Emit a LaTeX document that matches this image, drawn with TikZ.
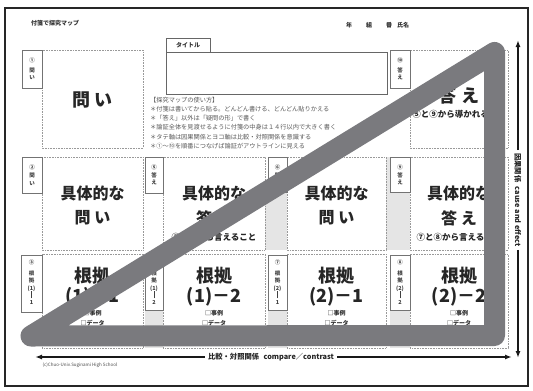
\documentclass[tikz,border=0pt]{standalone}
\usepackage{fontspec}
\newfontfamily\jp{Noto Sans CJK JP}
\usetikzlibrary{arrows.meta}
\definecolor{triG}{RGB}{122,122,126}
\newcommand{\vbarmark}{\rule[-1pt]{0.5pt}{7pt}}
\begin{document}
\begin{tikzpicture}[x=1pt,y=-1pt,
  lab/.style={draw=black!55,line width=0.6pt,fill=white},
  dbox/.style={draw=black!40,densely dotted,line width=0.6pt},
  stip/.style={fill=black!10,draw=none},
  bigt/.style={font=\jp\bfseries\fontsize{18}{18}\selectfont,text=black!85,inner sep=0pt},
  midt/.style={font=\jp\bfseries\fontsize{16}{16}\selectfont,text=black!85,inner sep=0pt},
  subt/.style={font=\jp\bfseries\fontsize{8.5}{9}\selectfont,text=black!85,inner sep=0pt},
  smallt/.style={font=\jp\bfseries\fontsize{6}{6}\selectfont,text=black!80,inner sep=0pt},
  labt/.style={font=\jp\bfseries\fontsize{5.5}{7.3}\selectfont,text=black!75,align=center,inner sep=0pt},
  inst/.style={font=\jp\fontsize{6.2}{7}\selectfont,anchor=west,inner sep=0pt,text=black!65},
  axt/.style={font=\jp\bfseries\fontsize{7.3}{8}\selectfont,text=black!85,inner sep=3pt},
  axis/.style={line width=1.5pt,black!90,-{Latex[length=7pt,width=5pt]}}
]
\useasboundingbox (0,0) rectangle (533,391);
\fill[white] (0,0) rectangle (533,391);
% frame
\draw[line width=2.6pt,black!85] (5,8) rectangle (528,386);

% header texts
\node[smallt] (hdr) at (55,23) {付箋で探究マップ};
\node[smallt] (nen) at (349,25) {年};
\node[smallt] (kumi) at (369,25) {組};
\node[smallt] (ban) at (389,25) {番};
\node[smallt] (shimei) at (403,25) {氏名};

% stipple strips
\fill[stip] (265,190) rectangle (287,250);
\fill[stip] (386,157) rectangle (390,250);
\fill[stip] (390,192) rectangle (410,250);
\fill[stip] (145,310) rectangle (163,348);
\fill[stip] (268,310) rectangle (287,348);
\fill[stip] (390,310) rectangle (410,348);

% dotted boxes
\draw[dbox] (42,50) rectangle (143,148);
\draw[dbox] (410,50) rectangle (508,148);
\foreach \xa/\xb in {42/143,163/265,287/386,410/508}{
  \draw[dbox] (\xa,157) rectangle (\xb,250);
  \draw[dbox] (\xa,254) rectangle (\xb,348);
}

% label boxes
\draw[lab] (22,50) rectangle (42,88);
\draw[lab] (390,50) rectangle (410,88);
\draw[lab] (22,157) rectangle (42,193);
\draw[lab] (145,157) rectangle (163,193);
\draw[lab] (268,157) rectangle (287,192);
\draw[lab] (390,157) rectangle (410,192);
\draw[lab] (21,255) rectangle (42,312);
\draw[lab] (145,255) rectangle (163,310);
\draw[lab] (268,255) rectangle (287,310);
\draw[lab] (390,255) rectangle (410,310);

\node[labt] (l1) at (32,69) {①\\[2pt]問\\い};
\node[labt] (l10) at (400,69) {⑩\\[2pt]答\\え};
\node[labt] (l2) at (32,175) {②\\[1pt]問\\い};
\node[labt] (l5) at (154,175) {⑤\\[1pt]答\\え};
\node[labt] (l6) at (277.5,175) {⑥\\[1pt]問\\い};
\node[labt] (l9) at (400,175) {⑨\\[1pt]答\\え};
\node[labt] (l3) at (31.5,282) {③\\[4pt]根\\拠\\(1)\\\vbarmark\\1};
\node[labt] (l4) at (154,282) {④\\[4pt]根\\拠\\(1)\\\vbarmark\\2};
\node[labt] (l7) at (277.5,282) {⑦\\[4pt]根\\拠\\(2)\\\vbarmark\\1};
\node[labt] (l8) at (400,282) {⑧\\[4pt]根\\拠\\(2)\\\vbarmark\\2};

% title box
\draw[line width=0.7pt,black!60,fill=white] (166,38) rectangle (210,52);
\draw[line width=0.7pt,black!60] (166,52) rectangle (387,94);
\node[smallt] (ttl) at (188,45) {タイトル};

% instructions
\node[inst] (i0) at (150,100) {【探究マップの使い方】};
\node[inst] (i1) at (150,109.2) {＊付箋は書いてから貼る。どんどん書ける、どんどん貼りかえる};
\node[inst] (i2) at (150,118.4) {＊「答え」以外は「疑問の形」で書く};
\node[inst] (i3) at (150,127.6) {＊論証全体を見渡せるように付箋の中身は１４行以内で大きく書く};
\node[inst] (i4) at (150,136.8) {＊タテ軸は因果関係とヨコ軸は比較・対照関係を意識する};
\node[inst] (i5) at (150,146) {＊①～⑩を順番につなげば論証がアウトラインに見える};

% row 1 contents
\node[bigt] (q1) at (92.5,100) {問 い};
\node[bigt] (a10) at (459,96) {答 え};
\node[subt] (a10s) at (459,114) {⑤と⑨から導かれること};

% row 2 contents
\node[midt] (q2a) at (92.5,193) {具体的な};
\node[midt] (q2b) at (92.5,218) {問 い};
\node[midt] (a5a) at (214,193) {具体的な};
\node[midt] (a5b) at (214,218) {答 え};
\node[subt] (a5s) at (214,237) {③と④から言えること};
\node[midt] (q6a) at (336.5,193) {具体的な};
\node[midt] (q6b) at (336.5,218) {問 い};
\node[midt] (a9a) at (459,193) {具体的な};
\node[midt] (a9b) at (459,218) {答 え};
\node[subt] (a9s) at (459,237) {⑦と⑧から言えること};

% row 3 contents
\foreach \cx/\nm/\lb in {92.5/r3/(1)－1,214/r4/(1)－2,336.5/r7/(2)－1,459/r8/(2)－2}{
  \node[bigt] (\nm a) at (\cx,276) {根拠};
  \node[bigt] (\nm b) at (\cx,297) {\lb};
  \node[smallt] (\nm c) at (\cx,313.5) {□事例};
  \node[smallt] (\nm d) at (\cx,323) {□データ};
}

% axes
\coordinate (ba1) at (35,357);
\coordinate (ba2) at (512,357);
\node[axt] (bt) at (271,357) {比較・対照関係\hspace{0.6em}compare／contrast};
\draw[axis] (bt.west) -- (ba1);
\draw[axis] (bt.east) -- (ba2);
\coordinate (va1) at (518,40);
\coordinate (va2) at (518,358);
\node[axt,rotate=-90] (vt) at (518,200) {因果関係\hspace{0.6em}cause and effect};
\draw[axis] (vt.west) -- (va1);
\draw[axis] (vt.east) -- (va2);

\node[font=\jp\fontsize{4.5}{5}\selectfont,text=black!70,inner sep=0pt] (copy) at (80,365) {(c)Chuo-Univ.Suginami High School};

% overlay triangle
\draw[triG,line width=21pt,line join=round,line cap=round]
  (31,336) -- (494.5,52.5) -- (494.5,335.5) -- cycle;
\end{tikzpicture}
\end{document}
